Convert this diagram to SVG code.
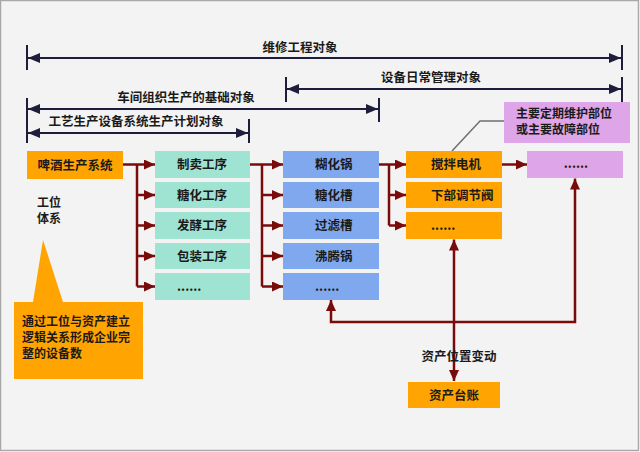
<svg xmlns="http://www.w3.org/2000/svg" width="640" height="452" viewBox="0 0 640 452">
<defs>
<marker id="dim" viewBox="0 0 12 10" refX="12" refY="5" markerWidth="12" markerHeight="10" markerUnits="userSpaceOnUse" orient="auto-start-reverse"><path d="M0,0 L12,5 L0,10 z" fill="#1e1e3c"/></marker>
<marker id="arr" viewBox="0 0 11 10" refX="11" refY="5" markerWidth="11" markerHeight="10" markerUnits="userSpaceOnUse" orient="auto-start-reverse"><path d="M0,0 L11,5 L0,10 z" fill="#7a0b0b"/></marker>
<style>
text{font-family:"Noto Sans CJK SC","Liberation Sans",sans-serif;font-size:12.5px;font-weight:bold;fill:#1a1a1a}
.c{text-anchor:middle}
.dl{stroke:#1e1e3c;stroke-width:2;fill:none}
.dt{stroke:#1e1e3c;stroke-width:2}
.cn{stroke:#7a0b0b;stroke-width:2.5;fill:none}
.or{fill:#ffa400}
.tl{fill:#9fe3d2}
.bl{fill:#80a8ee}
.pk{fill:#dea6e8}
.sm{font-size:12px}
</style>
</defs>
<rect x="0.5" y="0.5" width="638" height="450" fill="#f3f3f3" stroke="#a8a8a8" stroke-width="1.5"/>

<g id="dimensions">
<line class="dt" x1="27" y1="45" x2="27" y2="70"/>
<line class="dt" x1="622" y1="45" x2="622" y2="70"/>
<line class="dl" x1="28" y1="58" x2="621" y2="58" marker-start="url(#dim)" marker-end="url(#dim)"/>
<text class="c" x="300" y="52">维修工程对象</text>

<line class="dt" x1="286" y1="77" x2="286" y2="102"/>
<line class="dt" x1="622" y1="77" x2="622" y2="102"/>
<line class="dl" x1="287" y1="89" x2="621" y2="89" marker-start="url(#dim)" marker-end="url(#dim)"/>
<text class="c" x="431" y="82">设备日常管理对象</text>

<line class="dt" x1="27" y1="98" x2="27" y2="143"/>
<line class="dt" x1="379" y1="98" x2="379" y2="122"/>
<line class="dl" x1="28" y1="109" x2="378" y2="109" marker-start="url(#dim)" marker-end="url(#dim)"/>
<text class="c" x="186" y="102">车间组织生产的基础对象</text>

<line class="dt" x1="249" y1="119" x2="249" y2="143"/>
<line class="dl" x1="28" y1="133" x2="248" y2="133" marker-start="url(#dim)" marker-end="url(#dim)"/>
<text class="c" x="136" y="126">工艺生产设备系统生产计划对象</text>
</g>

<g id="connectors">
<path class="cn" d="M123,164.5 H155" marker-end="url(#arr)"/>
<path class="cn" d="M137,164.5 V286.5"/>
<path class="cn" d="M137,195 H155" marker-end="url(#arr)"/>
<path class="cn" d="M137,225.5 H155" marker-end="url(#arr)"/>
<path class="cn" d="M137,256 H155" marker-end="url(#arr)"/>
<path class="cn" d="M137,286.5 H155" marker-end="url(#arr)"/>

<path class="cn" d="M250,164.5 H283" marker-end="url(#arr)"/>
<path class="cn" d="M262,164.5 V286.5"/>
<path class="cn" d="M262,195 H283" marker-end="url(#arr)"/>
<path class="cn" d="M262,225.5 H283" marker-end="url(#arr)"/>
<path class="cn" d="M262,256 H283" marker-end="url(#arr)"/>
<path class="cn" d="M262,286.5 H283" marker-end="url(#arr)"/>

<path class="cn" d="M379,164.5 H406" marker-end="url(#arr)"/>
<path class="cn" d="M389,164.5 V225.5"/>
<path class="cn" d="M389,195 H406" marker-end="url(#arr)"/>
<path class="cn" d="M389,225.5 H406" marker-end="url(#arr)"/>

<path class="cn" d="M502,164.5 H527" marker-end="url(#arr)"/>

<path class="cn" d="M454,239.5 V381" marker-start="url(#arr)" marker-end="url(#arr)"/>
<path class="cn" d="M331,300 V322 H575 V178.5" marker-start="url(#arr)" marker-end="url(#arr)"/>

<path d="M452,151 L480,121 H504" fill="none" stroke="#707070" stroke-width="1.5"/>
</g>

<g id="n-system"><rect class="or" x="27" y="151" width="96" height="28"/><text class="c" x="75" y="169.5">啤酒生产系统</text></g>
<g id="n-gongwei"><text class="sm" x="37" y="207">工位</text><text class="sm" x="37" y="223">体系</text></g>
<g id="n-note"><path class="or" d="M43,240 L63,302 H143 V379 H14 V302 H33 Z"/>
<text class="sm" x="22" y="326">通过工位与资产建立</text>
<text class="sm" x="22" y="342">逻辑关系形成企业完</text>
<text class="sm" x="22" y="358">整的设备数</text></g>

<g id="n-p1"><rect class="tl" x="155" y="151" width="95" height="27"/><text x="177" y="169">制卖工序</text></g>
<g id="n-p2"><rect class="tl" x="155" y="182" width="95" height="26"/><text x="177" y="199.5">糖化工序</text></g>
<g id="n-p3"><rect class="tl" x="155" y="212" width="95" height="27"/><text x="177" y="230">发酵工序</text></g>
<g id="n-p4"><rect class="tl" x="155" y="243" width="95" height="26"/><text x="177" y="260.5">包装工序</text></g>
<g id="n-p5"><rect class="tl" x="155" y="273" width="95" height="27"/><text x="177" y="291">......</text></g>

<g id="n-e1"><rect class="bl" x="283" y="151" width="96" height="27"/><text x="315" y="169">糊化锅</text></g>
<g id="n-e2"><rect class="bl" x="283" y="182" width="96" height="26"/><text x="315" y="199.5">糖化槽</text></g>
<g id="n-e3"><rect class="bl" x="283" y="212" width="96" height="27"/><text x="315" y="230">过滤槽</text></g>
<g id="n-e4"><rect class="bl" x="283" y="243" width="96" height="26"/><text x="315" y="260.5">沸腾锅</text></g>
<g id="n-e5"><rect class="bl" x="283" y="273" width="96" height="27"/><text x="315" y="291">......</text></g>

<g id="n-c1"><rect class="or" x="406" y="151" width="96" height="27"/><text x="431" y="169">搅拌电机</text></g>
<g id="n-c2"><rect class="or" x="406" y="182" width="96" height="26"/><text x="431" y="199.5">下部调节阀</text></g>
<g id="n-c3"><rect class="or" x="406" y="212" width="96" height="27"/><text x="431" y="230">......</text></g>

<g id="n-d1"><rect class="pk" x="527" y="151" width="96" height="27"/><text class="c" x="576" y="168">......</text></g>
<g id="n-part"><rect class="pk" x="504" y="102" width="126" height="41"/><text class="sm" x="516" y="118">主要定期维护部位</text><text class="sm" x="516" y="134">或主要故障部位</text></g>

<g id="n-ledger"><rect class="or" x="408" y="382" width="92" height="26"/><text class="c" x="454" y="399.5">资产台账</text></g>
<g id="l-move"><text class="c" x="459" y="361">资产位置变动</text></g>
</svg>
